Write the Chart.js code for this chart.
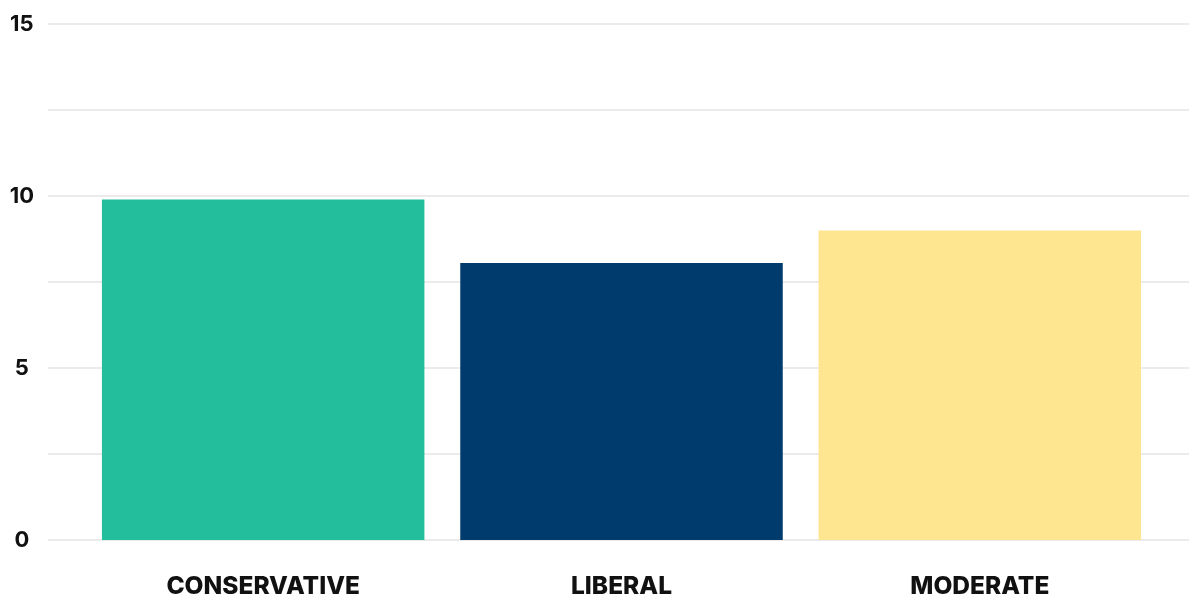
<!DOCTYPE html>
<html>
<head>
<meta charset="utf-8">
<script src="https://cdn.jsdelivr.net/npm/chart.js@4"></script>
<style>
  html, body { margin: 0; padding: 0; background: #fff; }
  #wrap { width: 1189px; height: 597px; }
</style>
</head>
<body>
<div id="wrap"><canvas id="barChart"></canvas></div>
<script>
// Data
const categories = ["CONSERVATIVE", "LIBERAL", "MODERATE"];
const values = [9.9, 8.05, 9.0];
const barColors = ['#23be9b', '#003b6e', '#fde68f'];
const yTicks = [0, 5, 10, 15];

// gridlines run past the plot area, from x=48 to the right edge
const wideGrid = {
    id: 'wideGrid',
    beforeDatasetsDraw(chart) {
        const ctx = chart.ctx;
        const y = chart.scales.y;
        ctx.save();
        ctx.strokeStyle = '#ebebeb';
        ctx.lineWidth = 2;
        for (let v = 0; v <= 15; v += 2.5) {
            const py = Math.round(y.getPixelForValue(v));
            ctx.beginPath();
            ctx.moveTo(48, py);
            ctx.lineTo(chart.width, py);
            ctx.stroke();
        }
        ctx.restore();
    }
};

const ctx = document.getElementById('barChart').getContext('2d');
const chart = new Chart(ctx, {
    type: 'bar',
    data: {
        labels: categories,
        datasets: [{
            data: values,
            backgroundColor: barColors,
            categoryPercentage: 1,
            barPercentage: 0.9
        }]
    },
    options: {
        responsive: true,
        maintainAspectRatio: false,
        animation: false,
        layout: { padding: { top: 24, right: 30, left: 0, bottom: 0 } },
        plugins: {
            legend: { display: false },
            tooltip: { enabled: false }
        },
        scales: {
            x: {
                grid: { display: false, drawTicks: false },
                border: { display: false },
                ticks: {
                    color: '#111',
                    padding: 32,
                    font: { family: 'Inter', weight: 800, size: 24.5 }
                },
                afterFit(scale) { scale.height = 57; }
            },
            y: {
                min: 0,
                max: 15,
                grid: { display: false, drawTicks: true, tickLength: 48 },
                border: { display: false },
                afterBuildTicks(scale) {
                    scale.ticks = yTicks.map(v => ({ value: v }));
                },
                ticks: {
                    color: '#111',
                    crossAlign: 'center',
                    padding: 2,
                    font: { family: 'Inter', weight: 700, size: 22 }
                },
                afterFit(scale) { scale.width = 84; }
            }
        }
    },
    plugins: [wideGrid]
});
</script>
</body>
</html>
